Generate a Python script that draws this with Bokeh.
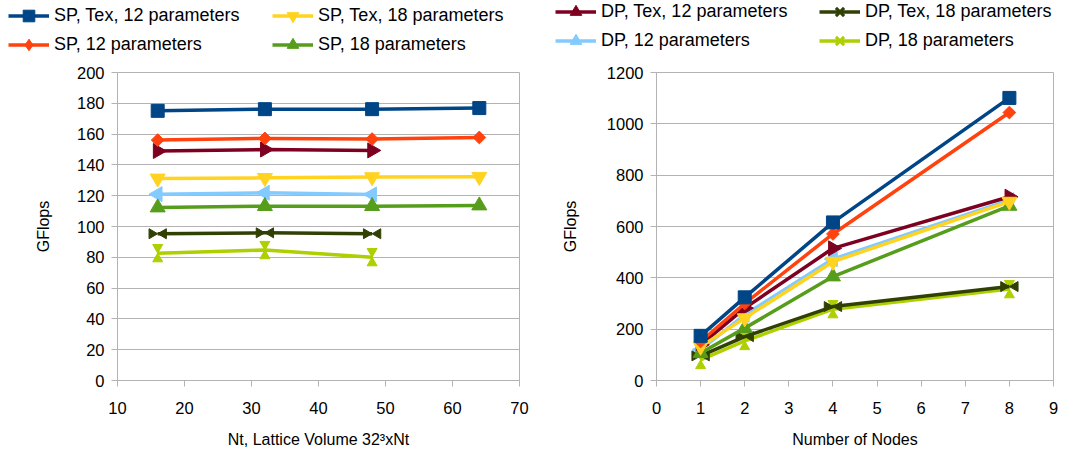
import numpy as np
from bokeh.plotting import figure
from bokeh.models import (Legend, LegendItem, ColumnDataSource, FixedTicker,
                          Range1d)
from bokeh.layouts import row, column
from bokeh.transform import dodge
from bokeh.embed import file_html
from bokeh.resources import INLINE

# ---------------- data ----------------
nt_sp = [16, 32, 48, 64]
nt_dp = [16, 32, 48]
nodes = [1, 2, 4, 8]

# left chart: GFlops vs Nt
sp_tex_12_nt = [175.1, 176.2, 176.2, 176.9]
sp_12_nt = [156.1, 157.2, 156.8, 157.8]
sp_tex_18_nt = [131.2, 131.6, 132.1, 132.3]
sp_18_nt = [112.3, 113.2, 113.2, 113.6]
dp_tex_12_nt = [149.0, 150.0, 149.4]
dp_12_nt = [121.0, 121.9, 120.8]
dp_tex_18_nt = [95.3, 95.9, 95.3]
dp_18_nt = [82.7, 84.7, 80.1]

# right chart: GFlops vs number of nodes
sp_tex_12_nodes = [174, 324, 616, 1101]
sp_12_nodes = [152, 300, 571, 1044]
sp_tex_18_nodes = [132, 243, 463, 697]
sp_18_nodes = [107, 204, 405, 680]
dp_tex_12_nodes = [139, 282, 515, 716]
dp_12_nodes = [120, 256, 473, 703]
dp_tex_18_nodes = [96, 171, 288, 366]
dp_18_nodes = [80, 154, 278, 356]

series_names = ["SP, Tex, 12 parameters", "SP, 12 parameters",
                "SP, Tex, 18 parameters", "SP, 18 parameters",
                "DP, Tex, 12 parameters", "DP, 12 parameters",
                "DP, Tex, 18 parameters", "DP, 18 parameters"]
colors = ["#004586", "#ff420e", "#ffd320", "#579d1c",
          "#7e0021", "#83caff", "#314004", "#aecf00"]
markers = ["square", "diamond", "down", "up", "right", "left", "bowtie", "hourglass"]

left_x = [nt_sp, nt_sp, nt_sp, nt_sp, nt_dp, nt_dp, nt_dp, nt_dp]
left_y = [sp_tex_12_nt, sp_12_nt, sp_tex_18_nt, sp_18_nt,
          dp_tex_12_nt, dp_12_nt, dp_tex_18_nt, dp_18_nt]
right_y = [sp_tex_12_nodes, sp_12_nodes, sp_tex_18_nodes, sp_18_nodes,
           dp_tex_12_nodes, dp_12_nodes, dp_tex_18_nodes, dp_18_nodes]

FONT = "Liberation Sans"
GRID = "#b3b3b3"
LEG_H = 64
FRAME_H = 308
TOP = 8
BOTTOM = 74
W1, W2 = 537, 536


def make_fig(width, x_rng, y_rng, xticks, yticks, xlabel, border_left, border_right):
    p = figure(width=width, height=TOP + FRAME_H + BOTTOM, output_backend="svg",
               toolbar_location=None,
               x_range=Range1d(*x_rng), y_range=Range1d(*y_rng),
               min_border_left=border_left, min_border_right=border_right,
               min_border_top=TOP, min_border_bottom=BOTTOM)
    p.outline_line_color = GRID
    p.xgrid.visible = False
    p.ygrid.grid_line_color = GRID
    p.ygrid.grid_line_width = 1
    p.xaxis.ticker = FixedTicker(ticks=xticks)
    p.yaxis.ticker = FixedTicker(ticks=yticks)
    for ax in (p.xaxis[0], p.yaxis[0]):
        ax.axis_line_color = GRID
        ax.major_tick_line_color = GRID
        ax.minor_tick_line_color = None
        ax.major_tick_out = 6
        ax.major_tick_in = 0
        ax.major_label_text_font = FONT
        ax.major_label_text_font_size = "16.5px"
        ax.major_label_text_color = "#000000"
        ax.axis_label_text_font = FONT
        ax.axis_label_text_font_size = "16px"
        ax.axis_label_text_font_style = "normal"
        ax.axis_label_text_color = "#000000"
    p.xaxis.major_label_standoff = 15
    p.xaxis.axis_label_standoff = 14
    p.yaxis.major_label_standoff = 7
    p.yaxis.axis_label_standoff = 22
    p.xaxis.axis_label = xlabel
    p.yaxis.axis_label = "GFlops"
    p.background_fill_color = "white"
    p.border_fill_color = "white"
    return p


def marker_renderers(p, src, color, mk, px_x, px_y, legend_only=False):
    common = dict(source=src, fill_color=color, line_color=color)
    rs = []
    if mk == "square":
        rs.append(p.scatter("x", "y", marker="square", size=13, **common))
    elif mk == "diamond":
        if legend_only:
            rs.append(p.scatter("x", "y", marker="diamond", size=13, **common))
        else:
            rs.append(p.scatter("x", "y", marker="square", size=9, angle=np.pi / 4, **common))
    elif mk == "up":
        rs.append(p.scatter("x", "y", marker="triangle", size=15, **common))
    elif mk == "down":
        rs.append(p.scatter("x", "y", marker="inverted_triangle", size=15, **common))
    elif mk == "right":
        rs.append(p.scatter("x", "y", marker="triangle", size=15, angle=-np.pi / 2, **common))
    elif mk == "left":
        rs.append(p.scatter("x", "y", marker="triangle", size=15, angle=np.pi / 2, **common))
    elif mk in ("bowtie", "hourglass"):
        if legend_only:
            rs.append(p.scatter("x", "y", source=src, marker="x", size=12,
                                line_color=color, line_width=3))
        else:
            s = 10
            if mk == "bowtie":
                off = s * np.sqrt(3) / 2 * 2 / 3 / px_x
                rs.append(p.scatter(dodge("x", -off), "y", marker="triangle", size=s,
                                    angle=-np.pi / 2, **common))
                rs.append(p.scatter(dodge("x", off), "y", marker="triangle", size=s,
                                    angle=np.pi / 2, **common))
            else:
                off = s * np.sqrt(3) / 2 * 2 / 3 / px_y
                rs.append(p.scatter("x", dodge("y", off), marker="inverted_triangle",
                                    size=s, **common))
                rs.append(p.scatter("x", dodge("y", -off), marker="triangle",
                                    size=s, **common))
    return rs


def add_series(p, xs, ys, color, mk, px_x, px_y):
    src = ColumnDataSource(dict(x=xs, y=ys))
    p.line("x", "y", source=src, line_color=color, line_width=3.5, line_join="round")
    marker_renderers(p, src, color, mk, px_x, px_y)


# ---------------- legend strip ----------------
# the strip's ranges lie outside the data, so its renderers only show in the legends
pl = figure(width=W1 + W2, height=LEG_H, output_backend="svg", toolbar_location=None,
            x_range=Range1d(-3, -2), y_range=Range1d(-3, -2),
            x_axis_type=None, y_axis_type=None,
            min_border_left=0, min_border_right=0, min_border_top=0, min_border_bottom=0)
pl.outline_line_color = None
pl.grid.visible = False
leg_items = []
for i in range(8):
    lsrc = ColumnDataSource(dict(x=nodes, y=right_y[i]))
    rl = pl.line("x", "y", source=lsrc, line_color=colors[i], line_width=3.5)
    rm = marker_renderers(pl, lsrc, colors[i], markers[i], 1, 1, legend_only=True)
    leg_items.append(LegendItem(label=series_names[i], renderers=[rl] + rm))


def add_legend(items, x, y):
    lg = Legend(items=items, location=(x, y), orientation="vertical",
                padding=0, margin=0, spacing=0, glyph_width=41, glyph_height=29,
                label_height=29, label_standoff=5, border_line_color=None,
                background_fill_alpha=0, label_text_font=FONT,
                label_text_font_size="18px", label_text_color="#000000")
    pl.add_layout(lg, "center")


add_legend(leg_items[0:2], 8, 5)
add_legend(leg_items[2:4], 272, 5)
add_legend(leg_items[4:6], 555, 9)
add_legend(leg_items[6:8], 819, 9)

# ---------------- left figure ----------------
p1 = make_fig(W1, (10, 70), (0, 200), list(range(10, 71, 10)), list(range(0, 201, 20)),
              "Nt, Lattice Volume 32\u00b3xNt", 117, 18)
px_x1 = 402 / 60
px_y1 = FRAME_H / 200
for i in reversed(range(8)):
    add_series(p1, left_x[i], left_y[i], colors[i], markers[i], px_x1, px_y1)

# ---------------- right figure ----------------
p2 = make_fig(W2, (0, 9), (0, 1200), list(range(0, 10)), list(range(0, 1201, 200)),
              "Number of Nodes", 119, 20)
p2.yaxis.axis_label_standoff = 25
px_x2 = 397 / 9
px_y2 = FRAME_H / 1200
for i in reversed(range(8)):
    add_series(p2, nodes, right_y[i], colors[i], markers[i], px_x2, px_y2)

layout = column(pl, row(p1, p2))
open("out.html", "w").write(file_html(layout, INLINE))
